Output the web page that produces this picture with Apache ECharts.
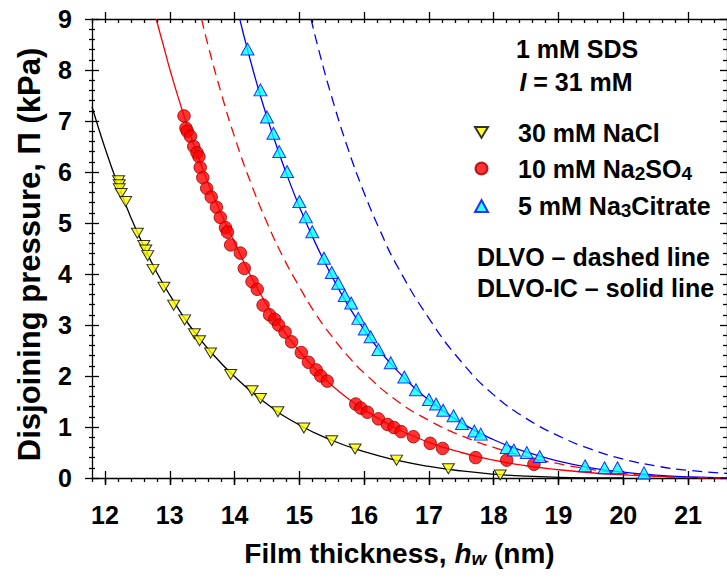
<!DOCTYPE html>
<html>
<head>
<meta charset="utf-8">
<script src="https://cdn.jsdelivr.net/npm/echarts@6/dist/echarts.min.js"></script>
<style>
  html, body { margin: 0; padding: 0; background: #ffffff; }
  #chart { width: 727px; height: 578px; }
</style>
</head>
<body>
<div id="chart"></div>
<script>
// Axis tick labels
const xTicks = [12, 13, 14, 15, 16, 17, 18, 19, 20, 21];
const yTicks = [0, 1, 2, 3, 4, 5, 6, 7, 8, 9];

// Measured disjoining pressure, 30 mM NaCl
const naclH = [12.21, 12.22, 12.22, 12.25, 12.32, 12.50, 12.60, 12.63, 12.66, 12.74, 12.91, 13.06, 13.23, 13.38, 13.46, 13.63, 13.94, 14.27, 14.40, 14.67, 15.07, 15.50, 15.86, 16.50, 17.30, 18.10];
const naclP = [5.83, 5.75, 5.67, 5.58, 5.42, 4.80, 4.56, 4.47, 4.36, 4.09, 3.74, 3.39, 3.10, 2.83, 2.69, 2.45, 2.03, 1.71, 1.56, 1.30, 0.98, 0.73, 0.57, 0.35, 0.18, 0.06];

// Measured disjoining pressure, 10 mM Na2SO4
const sulfH = [13.22, 13.25, 13.27, 13.32, 13.37, 13.42, 13.45, 13.47, 13.51, 13.57, 13.64, 13.72, 13.78, 13.86, 13.89, 13.94, 14.09, 14.15, 14.27, 14.35, 14.44, 14.54, 14.62, 14.68, 14.78, 14.88, 15.03, 15.14, 15.26, 15.33, 15.43, 15.87, 15.95, 16.05, 16.22, 16.36, 16.46, 16.57, 16.76, 17.02, 17.21, 17.72, 18.20, 18.62];
const sulfP = [7.10, 6.86, 6.80, 6.70, 6.50, 6.38, 6.30, 6.09, 5.89, 5.68, 5.51, 5.31, 5.11, 4.91, 4.82, 4.57, 4.41, 4.11, 3.85, 3.70, 3.39, 3.20, 3.11, 3.00, 2.86, 2.67, 2.46, 2.27, 2.12, 2.00, 1.90, 1.45, 1.37, 1.29, 1.16, 1.05, 0.99, 0.91, 0.81, 0.68, 0.58, 0.40, 0.35, 0.27];

// Measured disjoining pressure, 5 mM Na3Citrate
const citH = [14.20, 14.40, 14.50, 14.60, 14.69, 14.81, 15.00, 15.10, 15.20, 15.38, 15.50, 15.60, 15.70, 15.80, 15.91, 16.01, 16.10, 16.22, 16.41, 16.62, 16.80, 17.00, 17.11, 17.22, 17.38, 17.51, 17.70, 17.80, 18.20, 18.31, 18.51, 18.71, 19.41, 19.71, 19.91, 20.32];
const citP = [8.41, 7.61, 7.08, 6.76, 6.40, 6.01, 5.42, 5.12, 4.83, 4.31, 4.03, 3.82, 3.58, 3.43, 3.13, 2.92, 2.77, 2.52, 2.26, 1.98, 1.73, 1.54, 1.45, 1.33, 1.22, 1.07, 0.92, 0.86, 0.60, 0.55, 0.50, 0.42, 0.24, 0.20, 0.20, 0.10];

// DLVO-IC curves (solid)
const naclIcH = [11.8, 12.0, 12.2, 12.4, 12.6, 12.8, 13.0, 13.3, 13.6, 14.0, 14.5, 15.0, 15.5, 16.0, 16.5, 17.0, 17.5, 18.0, 18.5, 19.0, 19.5, 20.0];
const naclIcP = [7.28, 6.47, 5.75, 5.11, 4.54, 4.03, 3.59, 3.00, 2.52, 1.99, 1.45, 1.04, 0.74, 0.515, 0.349, 0.227, 0.138, 0.076, 0.036, 0.013, 0.003, 0.0];

const sulfIcH = [12.79, 12.9, 13.0, 13.2, 13.4, 13.6, 13.8, 14.0, 14.25, 14.5, 14.75, 15.0, 15.25, 15.5, 15.75, 16.0, 16.5, 17.0, 17.5, 18.0, 18.5, 19.0, 19.5, 20.0, 20.5, 21.0, 21.6];
const sulfIcP = [9.0, 8.49, 8.02, 7.18, 6.43, 5.76, 5.16, 4.62, 3.96, 3.39, 2.90, 2.49, 2.13, 1.82, 1.56, 1.34, 0.97, 0.70, 0.50, 0.35, 0.24, 0.162, 0.103, 0.063, 0.033, 0.013, 0.002];

const citIcH = [14.08, 14.2, 14.4, 14.6, 14.8, 15.0, 15.25, 15.5, 15.75, 16.0, 16.25, 16.5, 16.75, 17.0, 17.5, 18.0, 18.5, 19.0, 19.5, 20.0, 20.5, 21.0, 21.6];
const citIcP = [9.0, 8.40, 7.49, 6.69, 5.97, 5.32, 4.60, 3.96, 3.39, 2.91, 2.48, 2.12, 1.80, 1.53, 1.08, 0.75, 0.51, 0.33, 0.20, 0.114, 0.057, 0.022, 0.003];

// DLVO curves (dashed)
const sulfDlvoH = [13.49, 13.6, 13.8, 14.0, 14.25, 14.5, 14.75, 15.0, 15.25, 15.5, 15.75, 16.0, 16.5, 17.0, 17.5, 18.0, 18.5, 19.0, 19.5, 20.0, 20.5, 21.0, 21.5];
const sulfDlvoP = [9.0, 8.44, 7.52, 6.69, 5.79, 5.01, 4.33, 3.75, 3.22, 2.78, 2.39, 2.06, 1.52, 1.13, 0.83, 0.60, 0.42, 0.28, 0.17, 0.089, 0.036, 0.008, 0.0];

const citDlvoH = [15.18, 15.3, 15.5, 15.75, 16.0, 16.25, 16.5, 17.0, 17.5, 18.0, 18.5, 19.0, 19.5, 20.0, 20.5, 21.0, 21.6];
const citDlvoP = [9.0, 8.39, 7.47, 6.46, 5.59, 4.84, 4.18, 3.13, 2.28, 1.63, 1.17, 0.826, 0.565, 0.371, 0.237, 0.151, 0.090];

const FONT = 'Liberation Sans, Arial, sans-serif';
const X_MIN = 11.8, X_MAX = 21.6, Y_MIN = 0, Y_MAX = 9;

const zip = (a, b) => a.map((v, i) => [v, b[i]]);
const AX = { color: '#000', width: 1.3 };

function xAx(extra) {
  return Object.assign({
    type: 'value', min: X_MIN, max: X_MAX, gridIndex: 0,
    axisLine: { show: false, lineStyle: AX },
    axisTick: { show: false, lineStyle: AX },
    axisLabel: { show: false },
    splitLine: { show: false }
  }, extra);
}
function yAx(extra) {
  return Object.assign({
    type: 'value', min: Y_MIN, max: Y_MAX, interval: 1, gridIndex: 0,
    axisLine: { show: false, lineStyle: AX },
    axisTick: { show: false, lineStyle: AX },
    minorTick: { show: false },
    axisLabel: { show: false },
    splitLine: { show: false }, minorSplitLine: { show: false }
  }, extra);
}

const downTri = 'path://M0,0 L12,0 L6,10 Z';
const curve = (name, h, p, color, dashed) => ({
  type: 'line', name, data: zip(h, p), showSymbol: false, symbol: 'none',
  smooth: 0.5,
  lineStyle: { color, width: 1.3, type: dashed ? [10, 6] : 'solid' },
  z: 2, silent: true
});

const option = {
  animation: false,
  backgroundColor: '#ffffff',
  grid: { left: 92, top: 19, width: 637, height: 459, containLabel: false },
  xAxis: [
    xAx({
      position: 'bottom',
      axisLine: { show: true, onZero: false, lineStyle: AX },
      axisTick: { show: true, inside: false, length: 7, customValues: xTicks, lineStyle: AX },
      axisLabel: { show: true, customValues: xTicks, margin: 24, color: '#000', fontSize: 25, fontWeight: 'bold', fontFamily: FONT },
      name: '{n|Film thickness, }{i|h}{s|w}{n| (nm)}',
      nameLocation: 'middle', nameGap: 60,
      nameTextStyle: {
        color: '#000', fontSize: 28, fontWeight: 'bold', fontFamily: FONT, padding: [0, 20, 0, 0],
        rich: {
          n: { fontSize: 28, fontWeight: 'bold', fontFamily: FONT, color: '#000', lineHeight: 30, verticalAlign: 'middle' },
          i: { fontSize: 28, fontWeight: 'bold', fontStyle: 'italic', fontFamily: FONT, color: '#000', lineHeight: 30, verticalAlign: 'middle' },
          s: { fontSize: 19, fontWeight: 'bold', fontStyle: 'italic', fontFamily: FONT, color: '#000', lineHeight: 8, verticalAlign: 'bottom' }
        }
      }
    }),
    xAx({ position: 'bottom', axisTick: { show: true, inside: true, length: 7, customValues: xTicks, lineStyle: AX } }),
    xAx({ position: 'bottom', interval: 0.2, axisTick: { show: true, inside: false, length: 4, lineStyle: AX } }),
    xAx({
      position: 'top',
      axisLine: { show: true, onZero: false, lineStyle: AX },
      axisTick: { show: true, inside: false, length: 7, customValues: xTicks, lineStyle: AX }
    }),
    xAx({ position: 'top', axisTick: { show: true, inside: true, length: 7, customValues: xTicks, lineStyle: AX } }),
    xAx({ position: 'top', interval: 0.2, axisTick: { show: true, inside: true, length: 4, lineStyle: AX } })
  ],
  yAxis: [
    yAx({
      position: 'left',
      axisLine: { show: true, onZero: false, lineStyle: AX },
      axisTick: { show: true, inside: false, length: 7, lineStyle: AX },
      minorTick: { show: true, splitNumber: 5, length: 3, lineStyle: AX },
      axisLabel: { show: true, margin: 20, color: '#000', fontSize: 25, fontWeight: 'bold', fontFamily: FONT, formatter: v => (yTicks.indexOf(v) >= 0 ? String(v) : '') },
      name: 'Disjoining pressure, \u03A0 (kPa)',
      nameLocation: 'middle', nameGap: 47, nameRotate: 90,
      nameTextStyle: { color: '#000', fontSize: 31, fontWeight: 'bold', fontFamily: FONT, padding: [0, 12, 0, 0] }
    }),
    yAx({
      position: 'left',
      axisTick: { show: true, inside: true, length: 7, lineStyle: AX },
      minorTick: { show: true, splitNumber: 5, length: 3, lineStyle: AX }
    }),
    yAx({
      position: 'right',
      axisLine: { show: true, onZero: false, lineStyle: AX },
      axisTick: { show: true, inside: true, length: 7, lineStyle: AX },
      minorTick: { show: true, splitNumber: 5, length: 4, lineStyle: AX }
    })
  ],
  legend: {
    data: ['30 mM NaCl', '10 mM Na2SO4', '5 mM Na3Citrate'],
    orient: 'vertical', left: 469, top: 115,
    itemWidth: 13, itemHeight: 12, itemGap: 11,
    selectedMode: false,
    formatter: name => ({
      '30 mM NaCl': '{g| }{n|30 mM NaCl}',
      '10 mM Na2SO4': '{g| }{n|10 mM Na}{s|2}{n|SO}{s|4}',
      '5 mM Na3Citrate': '{g| }{n|5 mM Na}{s|3}{n|Citrate}'
    })[name],
    textStyle: {
      color: '#000', fontSize: 25, fontWeight: 'bold', fontFamily: FONT,
      rich: {
        g: { width: 25, fontSize: 25, lineHeight: 28 },
        n: { fontSize: 25, fontWeight: 'bold', fontFamily: FONT, color: '#000', lineHeight: 28, verticalAlign: 'middle' },
        s: { fontSize: 19, fontWeight: 'bold', fontFamily: FONT, color: '#000', lineHeight: 8, verticalAlign: 'bottom' }
      }
    }
  },
  graphic: [
    { type: 'text', x: 577, y: 49, style: { text: '1 mM SDS', fontSize: 25, fontWeight: 'bold', fontFamily: FONT, fill: '#000', textAlign: 'center', textVerticalAlign: 'middle' } },
    { type: 'text', x: 576, y: 82, style: {
        text: '{i|I}{n| = 31 mM}', textAlign: 'center', textVerticalAlign: 'middle',
        fontSize: 25, fontWeight: 'bold', fontFamily: FONT, fill: '#000',
        rich: {
          i: { fontSize: 25, fontWeight: 'bold', fontStyle: 'italic', fontFamily: FONT, fill: '#000' },
          n: { fontSize: 25, fontWeight: 'bold', fontFamily: FONT, fill: '#000' }
        } } },
    { type: 'text', x: 477, y: 257, style: { text: 'DLVO \u2013 dashed line', fontSize: 25, fontWeight: 'bold', fontFamily: FONT, fill: '#000', textAlign: 'left', textVerticalAlign: 'middle' } },
    { type: 'text', x: 477, y: 288, style: { text: 'DLVO-IC \u2013 solid line', fontSize: 25, fontWeight: 'bold', fontFamily: FONT, fill: '#000', textAlign: 'left', textVerticalAlign: 'middle' } }
  ],
  series: [
    curve('NaCl DLVO-IC', naclIcH, naclIcP, '#000000', false),
    curve('Na2SO4 DLVO-IC', sulfIcH, sulfIcP, '#ff0000', false),
    curve('Na3Citrate DLVO-IC', citIcH, citIcP, '#0000ff', false),
    curve('Na2SO4 DLVO', sulfDlvoH, sulfDlvoP, '#ff0000', true),
    curve('Na3Citrate DLVO', citDlvoH, citDlvoP, '#0000ff', true),
    { type: 'scatter', name: '30 mM NaCl', data: zip(naclH, naclP), symbol: downTri, symbolSize: [12, 10], itemStyle: { color: '#ffff00', borderColor: '#000000', borderWidth: 1 }, z: 5 },
    { type: 'scatter', name: '10 mM Na2SO4', data: zip(sulfH, sulfP), symbol: 'circle', symbolSize: 12.5, itemStyle: { color: '#ff0000', borderColor: '#a00000', borderWidth: 1 }, z: 5 },
    { type: 'scatter', name: '5 mM Na3Citrate', data: zip(citH, citP), symbol: 'triangle', symbolSize: [13, 12], itemStyle: { color: '#00ffff', borderColor: '#0000ff', borderWidth: 1 }, z: 5 }
  ]
};

const chart = echarts.init(document.getElementById('chart'), null, { renderer: 'svg' });
chart.setOption(option);
</script>
</body>
</html>
